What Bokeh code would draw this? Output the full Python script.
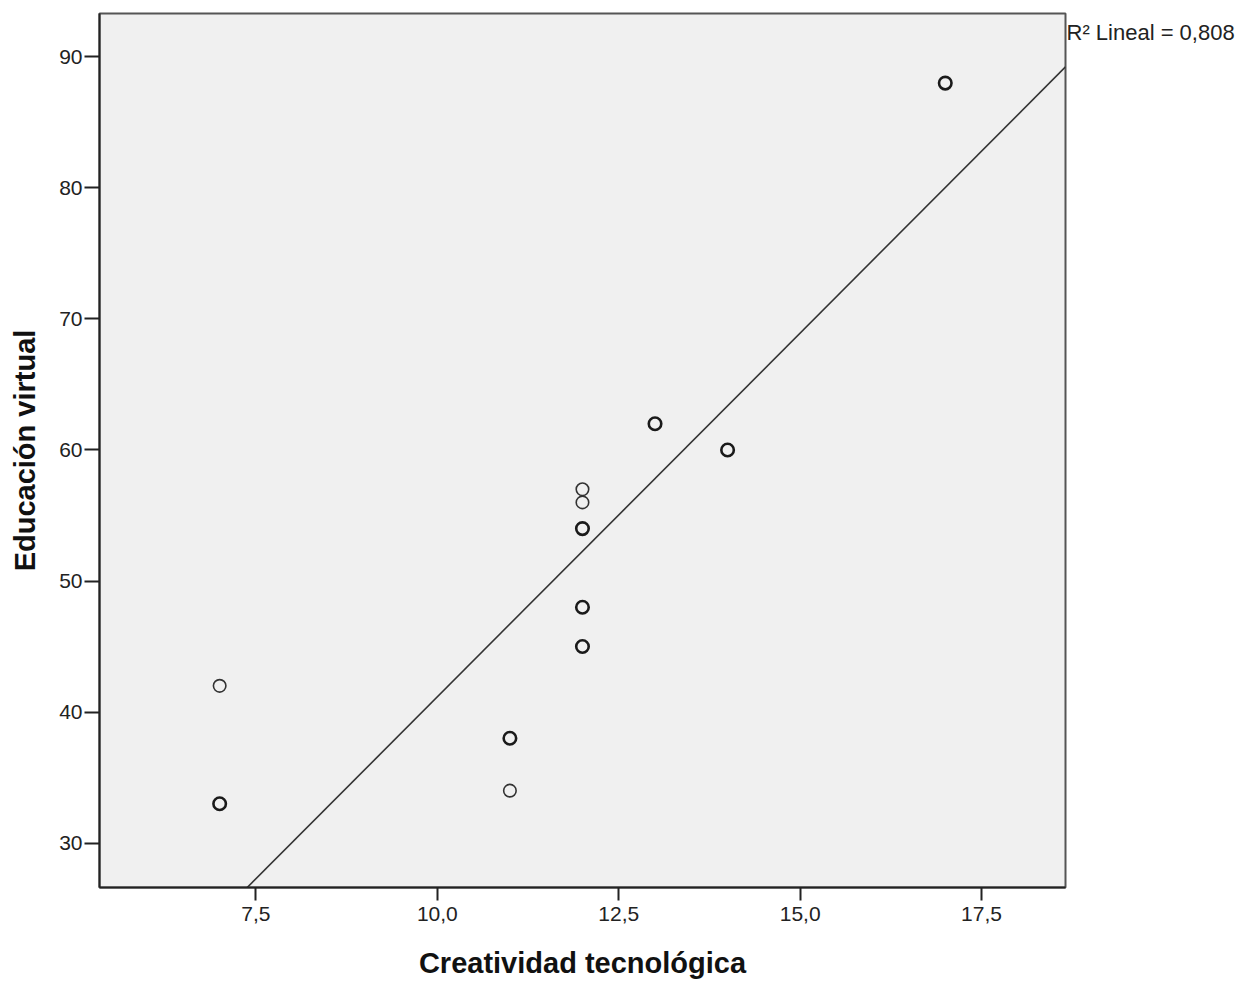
from bokeh.plotting import figure
from bokeh.layouts import row
from bokeh.models import FixedTicker, CustomJSTickFormatter, ColumnDataSource, Range1d, Label
from bokeh.embed import file_html
from bokeh.resources import INLINE

# ---- data ----
creatividad = [7, 7, 11, 11, 12, 12, 12, 12, 12, 13, 14, 17]
educacion = [42, 33, 38, 34, 57, 56, 54, 48, 45, 62, 60, 88]
casos = [1, 2, 2, 1, 1, 1, 2, 2, 2, 2, 2, 2]  # overlapping cases (bold rings)

fit_slope = 5.553
fit_intercept = -14.37
r2_text = "R\u00b2 Lineal = 0,808"

x_ticks = [7.5, 10.0, 12.5, 15.0, 17.5]
y_ticks = [30, 40, 50, 60, 70, 80, 90]
x_lim = (5.344, 18.657)
y_lim = (26.61, 93.31)

FONT = "Liberation Sans"

p = figure(width=1067, height=983, output_backend="svg", toolbar_location=None,
           x_range=Range1d(*x_lim), y_range=Range1d(*y_lim),
           min_border_left=99, min_border_right=2, min_border_top=13, min_border_bottom=96)
p.background_fill_color = "#f0f0f0"
p.border_fill_color = "white"
p.outline_line_color = "#555555"
p.outline_line_width = 2
p.grid.visible = False

for ax in (p.xaxis[0], p.yaxis[0]):
    ax.axis_line_color = "#222222"
    ax.axis_line_width = 2
    ax.major_tick_line_color = "#222222"
    ax.major_tick_line_width = 2
    ax.major_tick_in = 0
    ax.minor_tick_line_color = None
    ax.major_label_text_font = FONT
    ax.major_label_text_font_size = "21px"
    ax.major_label_text_color = "#222222"
    ax.axis_label_text_font = FONT
    ax.axis_label_text_font_size = "29px"
    ax.axis_label_text_font_style = "bold"
    ax.axis_label_text_color = "#111111"

p.xaxis.ticker = FixedTicker(ticks=x_ticks)
p.yaxis.ticker = FixedTicker(ticks=y_ticks)
p.xaxis.formatter = CustomJSTickFormatter(code="return tick.toFixed(1).replace('.', ',');")
p.yaxis.formatter = CustomJSTickFormatter(code="return tick.toFixed(0);")
p.xaxis.major_tick_out = 13
p.yaxis.major_tick_out = 15
p.xaxis.major_label_standoff = 6
p.yaxis.major_label_standoff = 2
p.xaxis.axis_label = "Creatividad tecnológica"
p.yaxis.axis_label = "Educación virtual"
p.xaxis.axis_label_standoff = 23
p.yaxis.axis_label_standoff = 15

# regression line across the whole x range (clipped by frame)
lx = [x_lim[0], x_lim[1]]
ly = [fit_intercept + fit_slope * v for v in lx]
p.line(lx, ly, line_color="#333333", line_width=1.6)

lw = [2.6 if c > 1 else 1.6 for c in casos]
lc = ["#1a1a1a" if c > 1 else "#333333" for c in casos]
src = ColumnDataSource(dict(x=creatividad, y=educacion, lw=lw, lc=lc))
p.scatter("x", "y", source=src, marker="circle", size=12.5, fill_color=None,
          line_color="lc", line_width="lw")

# side strip holding the R² annotation of the fit line
q = figure(width=186, height=983, output_backend="svg", toolbar_location=None,
           x_range=Range1d(0, 1), y_range=Range1d(0, 1),
           x_axis_location=None, y_axis_location=None, min_border=0)
q.outline_line_color = None
q.background_fill_color = "white"
q.border_fill_color = "white"
q.grid.visible = False
q.add_layout(Label(x=0, y=1, text=r2_text, text_font=FONT, text_font_size="22px",
                   text_color="#222222", text_baseline="top", text_align="left",
                   x_offset=-1, y_offset=-6))

layout = row(p, q, spacing=0)
open("out.html", "w").write(file_html(layout, INLINE))
